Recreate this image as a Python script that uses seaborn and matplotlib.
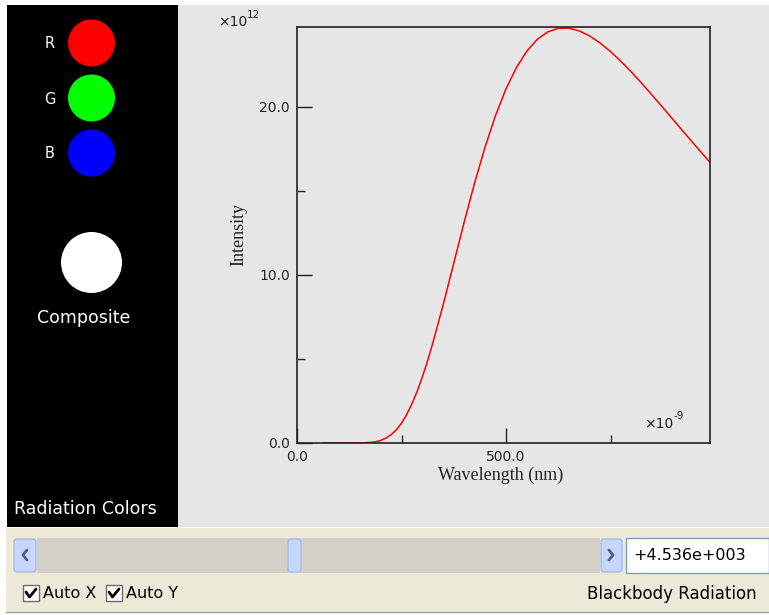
import pandas as pd
import seaborn as sns
import matplotlib.pyplot as plt
from matplotlib.patches import Rectangle, Circle, FancyBboxPatch

wavelength_nm = [60, 100, 150, 175, 187, 200, 212, 225, 237, 250, 262, 275, 287, 300,
                 312, 325, 350, 375, 400, 425, 450, 475, 500, 525, 550, 575, 600, 625,
                 650, 675, 700, 725, 750, 775, 800, 825, 850, 875, 900, 925, 950, 988]
intensity_e12 = [0.0, 0.0, 0.003, 0.03, 0.07, 0.15, 0.28, 0.49, 0.77, 1.18, 1.67, 2.33,
                 3.05, 3.94, 4.86, 5.96, 8.26, 10.70, 13.15, 15.49, 17.62, 19.50, 21.08,
                 22.35, 23.33, 24.03, 24.47, 24.68, 24.69, 24.53, 24.23, 23.81, 23.30,
                 22.71, 22.08, 21.40, 20.69, 19.97, 19.24, 18.51, 17.79, 16.70]

x_ticks = [0, 500]
x_tick_labels = ["0.0", "500.0"]
x_minor = [250, 750]
y_ticks = [0, 10, 20]
y_tick_labels = ["0.0", "10.0", "20.0"]
y_minor = [5, 15]

swatch_names = ["R", "G", "B"]
swatch_colors = ["#ff0000", "#00ff00", "#0000ff"]
temperature_text = "+4.536e+003"

df = pd.DataFrame({"wavelength": wavelength_nm, "intensity": intensity_e12})

sns.set_style("ticks")
plt.rcParams["font.family"] = ["DejaVu Sans"]

W, H = 769, 615
fig = plt.figure(figsize=(W / 100, H / 100), dpi=100)
fig.patch.set_facecolor("white")

# -------------------------------
# background panels, pixel coords
# -------------------------------
bg = fig.add_axes([0, 0, 1, 1])
bg.set_xlim(0, W)
bg.set_ylim(H, 0)
bg.axis("off")

bg.add_patch(Rectangle((7, 5), 171, 522, fc="black", ec="none"))
bg.add_patch(Rectangle((178, 5), 591, 522, fc="#e6e6e6", ec="none"))
bg.add_patch(Rectangle((5, 528), 764, 84, fc="#ece9d8", ec="none"))
bg.plot([5, 769], [612, 612], color="#a0a0a0", lw=1)
bg.plot([5, 5], [528, 612], color="#ffffff", lw=1)

# color swatches
for i, (name, col) in enumerate(zip(swatch_names, swatch_colors)):
    cy = 43 + i * 55
    bg.add_patch(Circle((91.5, cy), 23.5, fc=col, ec="none"))
    bg.text(50, cy + 1, name, color="white", ha="center", va="center", fontsize=10.5)

bg.add_patch(Circle((91.5, 262.5), 30.5, fc="white", ec="none"))
bg.text(84, 318, "Composite", color="white", ha="center", va="center", fontsize=12.5)
bg.text(14, 509, "Radiation Colors", color="white", ha="left", va="center", fontsize=12.5)

# scale labels
bg.text(218, 26, "\u00d710", ha="left", va="baseline", fontsize=10, color="#222222")
bg.text(247, 18, "12", ha="left", va="baseline", fontsize=7.5, color="#222222")
bg.text(644, 428, "\u00d710", ha="left", va="baseline", fontsize=10, color="#222222")
bg.text(674, 419, "-9", ha="left", va="baseline", fontsize=7.5, color="#222222")

# scrollbar
bg.add_patch(Rectangle((37, 538), 563, 35, fc="#d4d0c8", ec="none"))
for bx, bw in [(13, 24), (287, 15), (600, 23)]:
    bg.add_patch(FancyBboxPatch((bx + 1, 539), bw - 2, 33,
                                boxstyle="round,pad=0,rounding_size=3",
                                fc="#c6d6fc", ec="#a9bde9", lw=1))
bg.plot([27, 23, 27], [550, 555, 560], color="#4d6185", lw=2)
bg.plot([609, 613, 609], [550, 555, 560], color="#4d6185", lw=2)
bg.add_patch(Rectangle((626, 538), 143, 35, fc="white", ec="#7f9db9", lw=1))
bg.text(633, 556, temperature_text, ha="left", va="center", fontsize=11.5, color="black")

# checkboxes
for cx, label in [(23, "Auto X"), (106, "Auto Y")]:
    bg.add_patch(Rectangle((cx, 585), 16, 16, fc="white", ec="#6d6d6d", lw=1))
    bg.plot([cx + 3, cx + 6.5, cx + 13], [592, 597, 589], color="black", lw=2)
    bg.text(cx + 20, 594, label, ha="left", va="center", fontsize=11.5, color="black")
bg.text(757, 594, "Blackbody Radiation", ha="right", va="center", fontsize=12,
        color="black")

# -------------------------------
# spectrum plot
# -------------------------------
ax = fig.add_axes([297 / W, 1 - 443 / H, 413 / W, 416 / H])
ax.set_facecolor("none")
sns.lineplot(data=df, x="wavelength", y="intensity", color="#ff0000", lw=1.1, ax=ax)

ax.set_xlim(0, 988)
ax.set_ylim(0, 24.76)
ax.set_xticks(x_ticks, x_tick_labels)
ax.set_xticks(x_minor, minor=True)
ax.set_yticks(y_ticks, y_tick_labels)
ax.set_yticks(y_minor, minor=True)
ax.tick_params(which="major", direction="in", length=10.8, width=1, color="#222222",
               labelsize=10, labelcolor="#222222", pad=5)
ax.tick_params(which="minor", direction="in", length=5.8, width=1, color="#222222")
for sp in ax.spines.values():
    sp.set_visible(True)
    sp.set_color("#222222")
    sp.set_linewidth(1.2)

ax.set_xlabel("Wavelength (nm)", family=["Liberation Serif"], fontsize=13, color="#222222")
ax.xaxis.set_label_coords(0.494, -0.058)
ax.set_ylabel("Intensity", family=["Liberation Serif"], fontsize=13, color="#222222")
ax.yaxis.set_label_coords(-0.119, 0.5)

fig.savefig("out.png", dpi=100)
